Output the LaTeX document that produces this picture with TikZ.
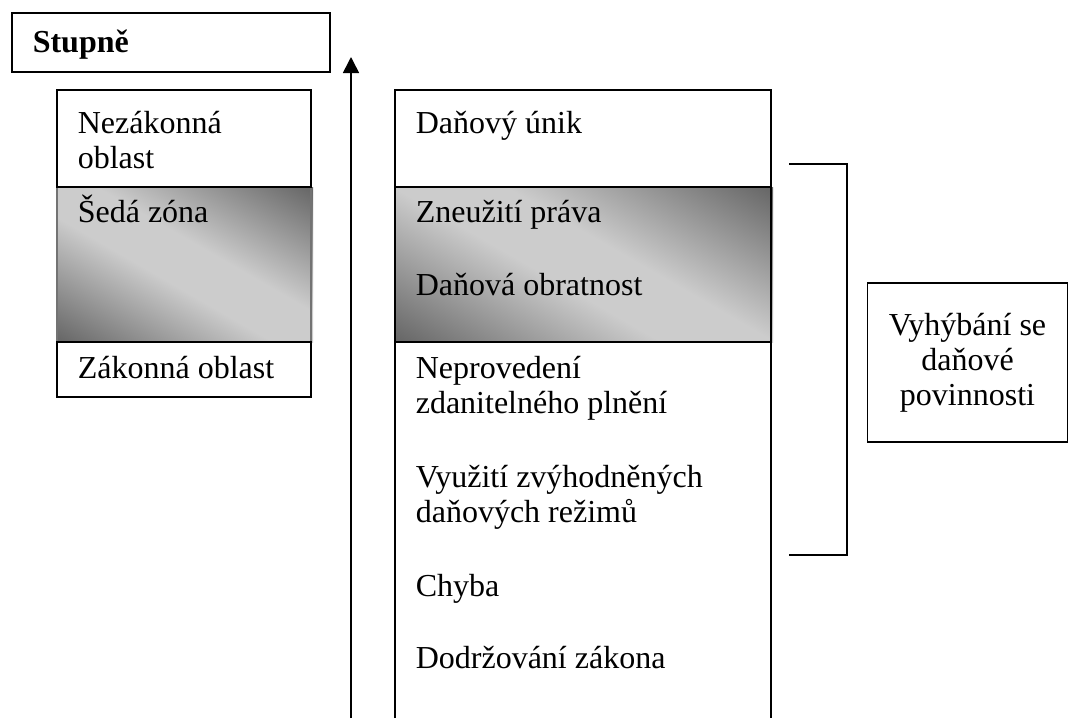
\documentclass[tikz,border=0pt]{standalone}
\usepackage{fontspec}
\setmainfont{Liberation Serif}
\usetikzlibrary{arrows.meta}

\pgfdeclareverticalshading{greyband}{100bp}{color(0bp)=(black!66); color(16bp)=(black!60); color(44bp)=(black!20); color(56bp)=(black!20); color(84bp)=(black!60); color(100bp)=(black!66)}

\tikzset{
  lbl/.style={inner sep=0pt, anchor=base west},
  greyzone/.style={shading=greyband, shading angle=-30},
}

\begin{document}
\begin{tikzpicture}[x=0.75pt, y=-0.75pt, line width=1.2pt, every node/.style={font=\fontsize{24}{26.25}\selectfont}]
\useasboundingbox (0,0) rectangle (1068,718);

% grey zones
\shade [greyzone] (57,187) rectangle (313,342);
\shade [greyzone] (395,187) rectangle (773,342);

\begin{scope}[draw=black!55]
\draw (57,187) -- (57,342);
\draw (311,187) -- (311,342);
\draw (395,187) -- (395,342);
\draw (771,187) -- (771,342);
\end{scope}

% boxes
\draw (12,13) rectangle (330,72);
\draw (57,90) rectangle (311,187);
\draw (57,342) rectangle (311,397);
\draw (395,718) -- (395,90) -- (771,90) -- (771,718);
\draw (395,187) -- (771,187);
\draw (395,342) -- (771,342);
\draw (395,342) -- (395,718);
\draw (771,342) -- (771,718);

\node [lbl, font=\fontsize{24}{26.25}\selectfont\bfseries] (stupne) at (32,52) {Stupně};

\node [lbl] (nezak1) at (77,133) {Nezákonná};
\node [lbl] (nezak2) at (77,168) {oblast};
\node [lbl] (seda) at (77,222) {Šedá zóna};
\node [lbl] (zakon) at (77,378) {Zákonná oblast};

\node [lbl] (unik) at (415,133) {Daňový únik};
\node [lbl] (zneuz) at (415,222) {Zneužití práva};
\node [lbl] (obrat) at (415,295) {Daňová obratnost};
\node [lbl] (neprov1) at (415,378) {Neprovedení};
\node [lbl] (neprov2) at (415,413) {zdanitelného plnění};
\node [lbl] (vyuz1) at (415,487) {Využití zvýhodněných};
\node [lbl] (vyuz2) at (415,522) {daňových režimů};
\node [lbl] (chyba) at (415,596) {Chyba};
\node [lbl] (dodrz) at (415,668) {Dodržování zákona};

\node [draw, inner sep=0pt, minimum width=150pt, minimum height=119pt, align=center] (vyhyb) at (967.5,362.5) {Vyhýbání se\\daňové\\povinnosti};

% axis
\coordinate (axbot) at (351,718);
\coordinate (axtop) at (351,57);
\draw [-{Triangle[length=12pt,width=12pt]}] (axbot) -- (axtop);

% bracket
\coordinate (brtop) at (789,164);
\coordinate (brbot) at (789,555);
\draw (brtop) -- (847,164) -- (847,555) -- (brbot);

\end{tikzpicture}
\end{document}
